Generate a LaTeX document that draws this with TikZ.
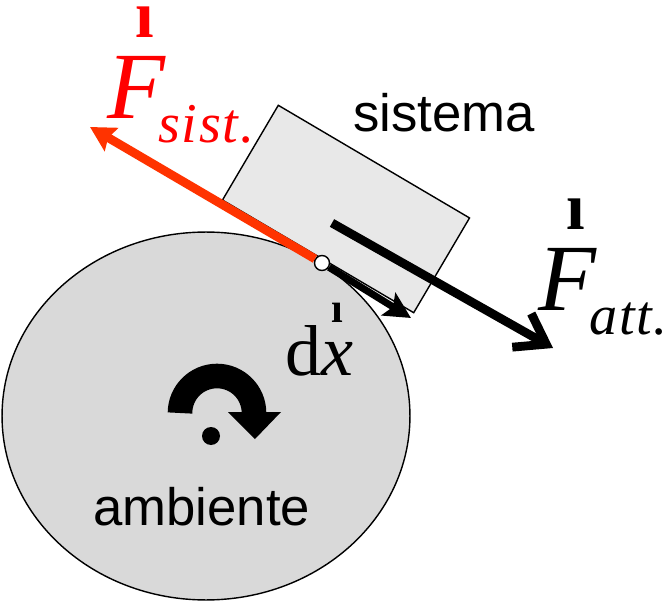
\documentclass[tikz,border=0pt]{standalone}
\usepackage{fontspec}
\setmainfont{Liberation Serif}
\newfontfamily\arialfont{Liberation Sans}
\usepackage{xcolor}
\usepackage{tikz}
\usetikzlibrary{
  shapes.geometric,
  arrows.meta,
  positioning
}
\definecolor{SistRed}{RGB}{255, 51, 0}
\definecolor{LabelRed}{RGB}{255, 0, 0}
\definecolor{AmbGray}{RGB}{217, 217, 217}
\definecolor{BoxGray}{RGB}{232, 232, 232}
\newcommand{\forcelabel}[1]{%
  \rlap{\hspace{16pt}\raisebox{46pt}{\fontsize{38}{38}\selectfont\bfseries\i}}%
  {\fontsize{54}{60}\selectfont\itshape F}\kern-4pt
  \raisebox{-14pt}{\fontsize{32}{36}\selectfont\itshape\addfontfeature{LetterSpace=3}#1}}
\tikzset{
  sistarrow/.style={draw=SistRed, line width=5pt, -{Stealth[length=14pt, width=15pt, inset=2pt]}},
  dxarrow/.style={draw=black, line width=4pt, -{Stealth[length=15pt, width=15pt, inset=3pt]}},
  attarrow/.style={draw=black, line width=5pt, -{Straight Barb[length=16pt, width=22pt]}},
  sanslabel/.style={anchor=base west, inner sep=0pt, font=\arialfont\fontsize{30}{36}\selectfont}
}

\begin{document}
\begin{tikzpicture}[x=0.02cm, y=-0.02cm]
  \useasboundingbox (0,0) rectangle (667,605);
  \node[ellipse, draw=black, line width=0.8pt, fill=AmbGray, inner sep=0pt,
        minimum width=8.16cm, minimum height=7.36cm] (ambiente) at (206,416) {};
  \node[rectangle, draw=black, line width=0.8pt, fill=BoxGray, inner sep=0pt,
        minimum width=4.44cm, minimum height=2.2cm, rotate=-30.5] (sistema) at (346,209) {};
  \node[circle, draw=black, line width=0.8pt, fill=white, inner sep=0pt, minimum size=0.3cm] (contact) at (322,263) {};

  \coordinate (fsisttip) at (90,127);
  \coordinate (dxtip) at (411,318);
  \coordinate (attstart) at (332,223);
  \coordinate (atttip) at (553,348);
  \draw[sistarrow] (contact) -- (fsisttip);
  \draw[dxarrow] (contact) -- (dxtip);
  \draw[attarrow] (attstart) -- (atttip);

  \draw[line width=14pt] (180,413) arc[start angle=180, end angle=360, radius=37];
  \fill (228,412) -- (281,412) -- (255,439) -- cycle;
  \fill (211,436) circle[radius=9];

  \node[sanslabel] (sistlabel) at (353,132) {sistema};
  \node[sanslabel] (amblabel) at (93,525) {ambiente};
  \node[anchor=base west, inner sep=0pt, text=LabelRed] (fsist) at (107,118) {\forcelabel{sist.}};
  \node[anchor=base west, inner sep=0pt] (fatt) at (538,310) {\forcelabel{att.}};
  \node[anchor=base west, inner sep=0pt] (dx) at (285,375)
    {\fontsize{41}{48}\selectfont d\rlap{\hspace{6pt}\raisebox{30pt}{\fontsize{24}{24}\selectfont\bfseries\i}}\textit{x}};
\end{tikzpicture}
\end{document}
